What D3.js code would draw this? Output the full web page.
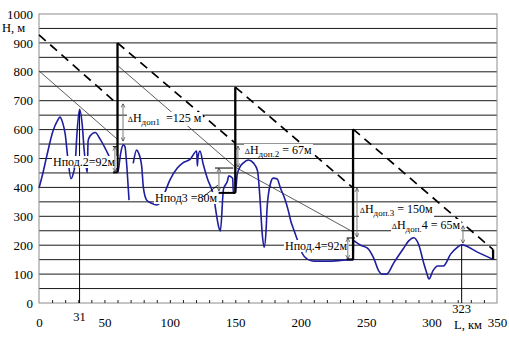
<!DOCTYPE html>
<html><head><meta charset="utf-8">
<script src="https://cdnjs.cloudflare.com/ajax/libs/d3/7.8.5/d3.min.js"></script>
<style>
body{margin:0;background:#fff}
svg{display:block}
</style>
</head><body>
<svg id="c" width="509" height="337"></svg>
<script>
// ---------- data ----------
const xTicks = [0, 50, 100, 150, 200, 250, 300, 350];
const yTicks = [0, 100, 200, 300, 400, 500, 600, 700, 800, 900, 1000];
const gridValues = d3.range(50, 1000, 50);
const minorTicks = d3.range(10, 350, 10);
const markKm = [31, 323];              // marked distances on the x axis
const markTopH = [670, 201];           // height of terrain at marked points

// terrain profile (null = gap)
const profileKm = [0,3,6,10.7,14,16,18,20,22,24.5,26,27.6,29,31,33,34.5,36.9,37.5,39,43,46.7,50.5,54.4,
  57,
  60,60.6,62.4,64.4,65.7,67,68.3,68.8,
  70,
  72,74.6,76,78.5,79.7,82.3,86,90,93,96.3,100,105.7,110,115.6,120.5,121,121.5,123,125.5,128.6,133,137.8,138.6,141,144,145,148,148.5,
  150,151.5,153.5,156,160,164,167,169,170.6,172,173.5,174.3,176.8,179,182,184.5,188.4,190.6,192.4,194.5,198.3,201,205,210,220,230,236,240,
  240.4,243,245.8,251,255.7,259.6,262,265.7,271,278.7,282.5,286.4,290,294,296.3,298,301,304.7,309,314.7,319,323,335,347];
const profileH = [398,450,510,595,630,643,625,585,502,430,445,481,585,670,619,530,452,560,578,590,567,536,500,
  null,
  452,460,518,547,541,480,391,356,
  null,
  483,529,520,472,402,356,345,339,350,384,425,467,485,498,526,474,505,526,480,432,377,256,249,394,422,440,432,381,
  381,446,470,484,495,484,457,353,239,193,249,329,412,432,429,398,353,318,284,256,208,173,152,145,145,147,149,149,
  215,208,200,190,156,111,100,100,138,190,215,226,204,138,104,83,111,128,128,170,190,201,176,151];

// antenna towers
const towerKm = [60, 150, 240, 347];
const towerBaseH = [452, 381, 149, 151];
const towerTopH = [900, 747, 602, 185];

// lines of sight (dashed)
const losStartKm = [0, 60, 150, 240];
const losStartH = [928, 900, 747, 602];
const losEndKm = [60, 150, 240, 347];
const losEndH = [688, 553, 398, 185];

// clearance lines (thin)
const clrStartKm = [0, 60, 150];
const clrStartH = [803, 822, 470];
const clrEndKm = [60, 150, 240];
const clrEndH = [566, 470, 246];

// dimension arrows
const arrowKm = [64.2, 58, 137.5, 152, 243, 236, 324];
const arrowFromH = [690, 541, 467, 543, 398, 225, 268];
const arrowToH = [560, 454, 388, 470, 228, 152, 206];

// bracket caps (Hпод)
const capKm1 = [56.4, 56.6, 134.5, 136, 235.1, 235];
const capKm2 = [60, 60, 148.5, 150, 241.5, 240];
const capH = [541, 452, 467, 381, 225, 151];
const capHeavy = [false, true, false, true, false, true];

// ---------- chart ----------
const FONT = '"Liberation Serif", Tinos, "Times New Roman", "DejaVu Serif", serif';
const svg = d3.select('#c');
const x = d3.scaleLinear().domain([0, 350]).range([39, 497]);
const y = d3.scaleLinear().domain([0, 1000]).range([303, 14]);

// grid
svg.append('g').selectAll('line').data(gridValues).join('line')
  .attr('x1', x(0)).attr('x2', x(350))
  .attr('y1', d => y(d)).attr('y2', d => y(d))
  .attr('stroke', '#1a1a1a').attr('stroke-width', 1);

// frame
svg.append('rect')
  .attr('x', x(0)).attr('y', y(1000))
  .attr('width', x(350) - x(0)).attr('height', y(0) - y(1000))
  .attr('fill', 'none').attr('stroke', '#8c8c8c').attr('stroke-width', 1);

// y axis labels
const ya = svg.append('g').attr('transform', `translate(${x(0)},0)`)
  .call(d3.axisLeft(y).tickValues(yTicks).tickSize(0).tickPadding(6).tickFormat(d3.format('d')));
ya.select('.domain').remove();
ya.selectAll('text').attr('font-size', 13);

// x axis labels
const xa = svg.append('g').attr('transform', `translate(0,${y(0)})`)
  .call(d3.axisBottom(x).tickValues(xTicks).tickSize(0).tickFormat(d3.format('d')));
xa.select('.domain').remove();
xa.selectAll('text').attr('font-size', 13).attr('y', 24).attr('dy', 0);

// minor ticks
const mt = svg.append('g').attr('transform', `translate(0,${y(0)})`)
  .call(d3.axisBottom(x).tickValues(minorTicks).tickSize(-3).tickFormat(''));
mt.select('.domain').remove();
mt.selectAll('line').attr('stroke', '#222');

// special x labels
const markLabelY = [321, 313];
svg.append('g').selectAll('text').data(markKm).join('text')
  .attr('x', d => x(d)).attr('y', (d, i) => markLabelY[i])
  .attr('text-anchor', 'middle').attr('font-size', 12.5).text(d => d);

svg.append('text').attr('x', 454).attr('y', 329).attr('font-size', 12.5).text('L, км');
svg.append('text').attr('x', 2).attr('y', 32).attr('font-size', 12.5).text('H, м');

// reference verticals
svg.append('g').selectAll('line').data(markKm).join('line')
  .attr('x1', d => x(d)).attr('x2', d => x(d))
  .attr('y1', y(0)).attr('y2', (d, i) => y(markTopH[i]))
  .attr('stroke', '#000').attr('stroke-width', 1);

// clearance lines
svg.append('g').selectAll('line').data(clrStartKm).join('line')
  .attr('x1', d => x(d)).attr('y1', (d, i) => y(clrStartH[i]))
  .attr('x2', (d, i) => x(clrEndKm[i])).attr('y2', (d, i) => y(clrEndH[i]))
  .attr('stroke', '#333').attr('stroke-width', 0.8);

// lines of sight
svg.append('g').selectAll('line').data(losStartKm).join('line')
  .attr('x1', d => x(d)).attr('y1', (d, i) => y(losStartH[i]))
  .attr('x2', (d, i) => x(losEndKm[i])).attr('y2', (d, i) => y(losEndH[i]))
  .attr('stroke', '#000').attr('stroke-width', 1.7).attr('stroke-dasharray', '9,6');

// terrain
const pts = profileKm.map((k, i) => [k, profileH[i]]);
const line = d3.line().defined(d => d[1] != null)
  .x(d => x(d[0])).y(d => y(d[1])).curve(d3.curveMonotoneX);
svg.append('path').attr('d', line(pts)).attr('fill', 'none')
  .attr('stroke', '#1e1e9e').attr('stroke-width', 1.6);

// towers
svg.append('g').selectAll('line').data(towerKm).join('line')
  .attr('x1', d => x(d)).attr('x2', d => x(d))
  .attr('y1', (d, i) => y(towerBaseH[i])).attr('y2', (d, i) => y(towerTopH[i]))
  .attr('stroke', '#000').attr('stroke-width', 2.3);

// caps
svg.append('g').selectAll('line').data(capKm1).join('line')
  .attr('x1', d => x(d)).attr('x2', (d, i) => x(capKm2[i]))
  .attr('y1', (d, i) => y(capH[i])).attr('y2', (d, i) => y(capH[i]))
  .attr('stroke', '#000').attr('stroke-width', (d, i) => capHeavy[i] ? 2 : 1);

// labels with white boxes
function label(xPx, yPx, parts) {
  const g = svg.append('g');
  const r = g.append('rect').attr('fill', '#fff');
  const t = g.append('text').attr('x', xPx).attr('y', yPx).style('font-family', FONT);
  parts.forEach(p => {
    const ts = t.append('tspan').attr('font-size', p.s).text(p.t);
    if (p.dy) ts.attr('dy', p.dy);
    if (p.x != null) ts.attr('x', p.x);
  });
  const b = t.node().getBBox();
  r.attr('x', b.x - 1).attr('y', b.y + 1).attr('width', b.width + 2).attr('height', b.height - 2);
}
label(128, 122, [{t:'∆', s:8}, {t:'H', s:12}, {t:'доп1', s:9, dy:3}, {t:'=125 м', s:12, dy:-3, x:166}]);
label(245, 154, [{t:'∆', s:8}, {t:'H', s:12}, {t:'доп.2', s:9, dy:3}, {t:' = 67м', s:12, dy:-3}]);
label(360, 213, [{t:'∆', s:8}, {t:'H', s:12}, {t:'доп.3', s:9, dy:3}, {t:' = 150м', s:12, dy:-3}]);
label(392, 229, [{t:'∆', s:8}, {t:'H', s:12}, {t:'доп.', s:9, dy:3}, {t:'4 = 65м', s:12, dy:-3}]);
label(53, 166, [{t:'Нпод.2=92м', s:12}]);
label(155, 202, [{t:'Нпод3 =80м', s:12}]);
label(285, 250, [{t:'Нпод.4=92м', s:12}]);

// leader for Hпод3
const leaderKm = [125.3, 136.8], leaderH = [367, 408];
svg.append('line').attr('x1', x(leaderKm[0])).attr('y1', y(leaderH[0]))
  .attr('x2', x(leaderKm[1])).attr('y2', y(leaderH[1]))
  .attr('stroke', '#000').attr('stroke-width', 0.8);

// arrows
const defs = svg.append('defs');
['s', 'e'].forEach(id => {
  defs.append('marker').attr('id', 'ah' + id).attr('viewBox', '0 0 10 10')
    .attr('refX', 10).attr('refY', 5).attr('markerWidth', 4).attr('markerHeight', 5)
    .attr('markerUnits', 'userSpaceOnUse')
    .attr('orient', id === 's' ? 'auto-start-reverse' : 'auto')
    .append('path').attr('d', 'M0,0 L10,5 L0,10').attr('fill', 'none')
    .attr('stroke', '#222').attr('stroke-width', 1.5);
});
svg.append('g').selectAll('line').data(arrowKm).join('line')
  .attr('x1', d => x(d)).attr('x2', d => x(d))
  .attr('y1', (d, i) => y(arrowFromH[i])).attr('y2', (d, i) => y(arrowToH[i]))
  .attr('stroke', '#7a7a7a').attr('stroke-width', 1)
  .attr('marker-start', 'url(#ahs)').attr('marker-end', 'url(#ahe)');

// fonts everywhere
svg.selectAll('text').style('font-family', FONT).attr('fill', '#000');
</script>
</body></html>
